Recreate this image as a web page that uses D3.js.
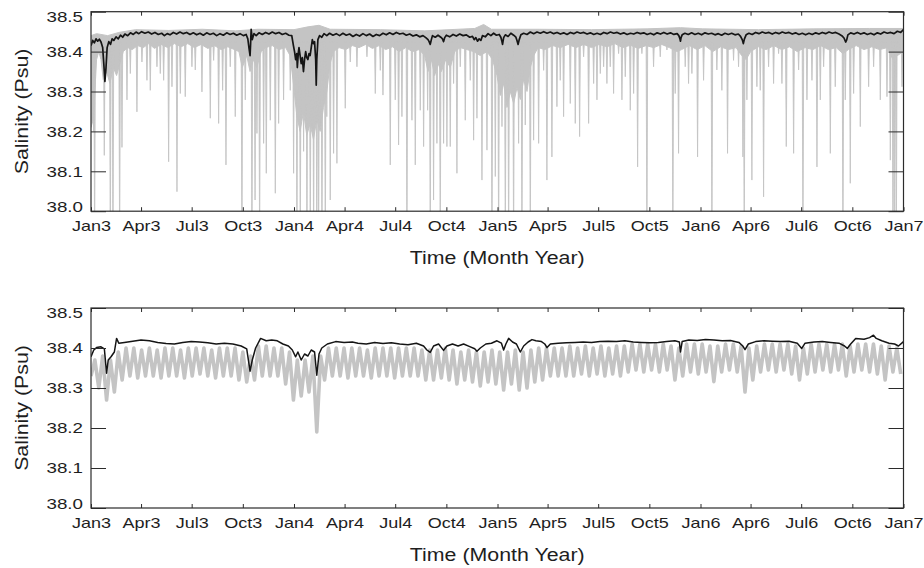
<!DOCTYPE html>
<html>
<head>
<meta charset="utf-8">
<script src="https://cdn.jsdelivr.net/npm/d3@7"></script>
<style>
  body { margin: 0; background: #fff; }
  svg { display: block; font-family: "Liberation Sans", Arial, Helvetica, sans-serif; }
</style>
</head>
<body>
<svg id="chart" width="924" height="568"></svg>
<script>
// ---- Data: days since 1 Jan 2003, salinity in psu ----
const tickLabels = ["Jan3","Apr3","Jul3","Oct3","Jan4","Apr4","Jul4","Oct4","Jan5","Apr5","Jul5","Oct5","Jan6","Apr6","Jul6","Oct6","Jan7"];
const yTickValues = [38.0, 38.1, 38.2, 38.3, 38.4, 38.5];

// Upper panel, raw record: envelope of the dense part of the signal
const rawTopUpper = [[0,38.44],[10,38.445],[30,38.44],[50,38.448],[80,38.455],[140,38.453],[200,38.456],[260,38.452],
  [300,38.456],[365,38.455],[390,38.462],[410,38.466],[430,38.456],[520,38.455],[600,38.452],[690,38.458],[706,38.468],
  [720,38.456],[800,38.456],[900,38.455],[1000,38.457],[1060,38.46],[1100,38.457],[1200,38.455],[1300,38.457],
  [1400,38.458],[1461,38.458]];
const rawTopLower = [[0,38.21],[4,38.23],[7,38.3],[10,38.38],[14,38.40],[18,38.38],[22,38.33],[28,38.35],[34,38.32],
  [40,38.36],[46,38.34],[52,38.37],[58,38.40],[66,38.41],[74,38.405],[84,38.415],[94,38.41],[104,38.42],[114,38.408],
  [126,38.418],[138,38.41],[150,38.42],[162,38.412],[174,38.42],[186,38.41],[198,38.418],[210,38.408],[222,38.415],
  [234,38.405],[246,38.412],[258,38.405],[266,38.40],[272,38.36],[280,38.39],[286,38.35],[292,38.38],[298,38.36],
  [306,38.40],[314,38.41],[326,38.415],[338,38.405],[350,38.41],[358,38.39],[364,38.32],[370,38.24],[376,38.20],
  [382,38.25],[388,38.19],[394,38.22],[400,38.18],[406,38.23],[412,38.20],[418,38.26],[424,38.30],[430,38.37],
  [436,38.40],[446,38.41],[458,38.405],[470,38.415],[482,38.41],[494,38.418],[506,38.408],[518,38.415],[530,38.405],
  [542,38.412],[554,38.40],[566,38.41],[578,38.40],[590,38.405],[600,38.39],[606,38.35],[612,38.38],[618,38.34],
  [624,38.37],[630,38.35],[638,38.38],[646,38.36],[654,38.40],[664,38.41],[676,38.405],[688,38.40],[700,38.39],
  [712,38.40],[722,38.38],[730,38.34],[736,38.29],[742,38.32],[748,38.26],[754,38.30],[760,38.27],[766,38.31],
  [772,38.28],[778,38.33],[784,38.30],[790,38.36],[796,38.39],[804,38.41],[816,38.405],[830,38.415],[844,38.41],
  [858,38.418],[872,38.41],[886,38.418],[900,38.41],[914,38.418],[928,38.412],[942,38.42],[956,38.41],[970,38.416],
  [984,38.408],[998,38.415],[1012,38.41],[1026,38.418],[1040,38.41],[1054,38.40],[1062,38.405],[1076,38.415],
  [1090,38.405],[1104,38.415],[1118,38.40],[1132,38.412],[1146,38.405],[1160,38.41],[1170,38.39],[1178,38.38],
  [1186,38.40],[1200,38.412],[1214,38.405],[1228,38.415],[1242,38.405],[1256,38.412],[1270,38.40],[1284,38.41],
  [1298,38.405],[1312,38.415],[1326,38.405],[1340,38.41],[1352,38.395],[1362,38.405],[1376,38.415],[1390,38.405],
  [1404,38.412],[1418,38.405],[1432,38.41],[1442,38.38],[1450,38.39],[1461,38.40]];
// Upper panel, raw record: individual low-salinity drops (day, minimum)
const rawTopDrops = [
  [4.7,38.20],[6.5,37.9],[23.9,38.14],[34.7,37.9],[39.5,37.9],[51.5,37.9],[55.7,38.16],[64.7,38.279],[70.7,38.345],
  [82.6,38.249],[91.6,38.374],[100.6,38.328],[106.6,38.303],[118.6,38.362],[124.6,38.345],[130.6,38.328],[139.6,38.124],
  [145.6,38.312],[154.6,38.049],[160.6,38.295],[169.5,38.287],[181.5,38.362],[187.5,38.354],[199.5,38.299],[214.5,38.233],
  [220.5,38.378],[229.5,38.22],[236.7,38.303],[242.7,38.116],[250.4,38.362],[259.4,38.237],[271.4,37.9],[277.4,38.279],
  [289.4,37.9],[295,38.028],[298.4,38.195],[303.2,37.9],[310.4,38.17],[315.2,38.095],[322.4,38.228],[331.4,38.045],
  [337.4,38.22],[346.3,38.279],[358.3,38.303],[364.3,38.095],[370.3,37.9],[376.3,37.9],[382.3,38.15],[388.3,37.9],
  [394.3,37.9],[400.3,37.9],[406,37.9],[409.3,37.9],[415.3,37.9],[421.3,37.9],[424,38.237],[430.2,38.028],[436.2,38.145],
  [442.2,38.12],[457.2,38.258],[466.2,38.374],[478.2,38.362],[496.2,38.387],[511.2,38.295],[520.2,38.353],[525,38.291],
  [538.1,38.116],[547.1,38.279],[553.1,38.166],[559.1,38.237],[568.1,37.9],[577.1,38.228],[583.1,38.116],[592.1,38.253],
  [598.1,38.162],[605.3,38.253],[610,37.9],[616,38.028],[622,38.17],[628,37.9],[634,38.17],[640,38.162],[646,38.162],
  [652,38.32],[658,38.095],[664,38.362],[673,38.228],[682,38.328],[688,38.178],[694,38.233],[703,38.078],[712,38.153],
  [721,37.9],[727,38.087],[733,37.9],[739,38.212],[745,37.9],[751,37.9],[759.9,37.9],[768.9,38.17],[774.9,37.9],
  [780.9,38.216],[789.9,37.9],[795.9,38.178],[804.9,38.17],[813.9,38.353],[819.8,38.078],[828.8,38.136],[837.8,38.262],
  [843.8,38.328],[849.8,38.237],[861.8,38.27],[870.8,38.22],[878.6,38.187],[885.8,38.387],[894.8,38.22],[903.8,38.32],
  [909.8,38.279],[915.8,38.345],[921.8,38.362],[927.7,38.32],[933.7,38.362],[939.7,38.295],[948.7,38.395],[954.7,38.279],
  [960.7,38.337],[969.7,38.253],[975.7,38.295],[982.9,38.111],[990.6,38.395],[999.6,37.9],[1011.6,38.362],[1023.6,38.387],
  [1035.6,38.404],[1046.3,37.9],[1050.5,38.295],[1056.5,38.145],[1068.5,38.362],[1074.5,38.32],[1080.5,38.345],
  [1090.7,38.136],[1101.5,38.328],[1116.5,37.9],[1125.4,38.354],[1134.4,38.303],[1144.6,38.145],[1155.4,38.378],
  [1164.4,38.362],[1172.2,38.136],[1174.6,37.9],[1179.4,38.279],[1188.4,38.078],[1197.4,38.312],[1203.4,38.303],
  [1209.4,38.036],[1218.4,38.362],[1227.4,38.32],[1236.4,38.395],[1242.4,38.32],[1250.2,38.162],[1263.4,38.145],
  [1272.4,38.354],[1280.2,37.9],[1287.4,38.279],[1296.4,38.328],[1305.4,38.111],[1311.4,38.279],[1317.4,38.362],
  [1329.4,38.145],[1338.3,38.312],[1352.1,37.9],[1356.3,38.279],[1365.3,38.07],[1371.3,38.295],[1383.3,38.212],
  [1398.3,38.312],[1407.3,38.362],[1419.3,38.279],[1425.3,38.412],[1431.3,38.287],[1437.3,38.128],[1442.1,37.9],
  [1445,37.9],[1448.1,37.9],[1452.3,38.395],[1458.3,38.312]];

// Upper panel, filtered record
const filteredTop = [[0,38.415],[3,38.428],[6,38.422],[9,38.432],[12,38.426],[15,38.431],[18,38.424],[21,38.41],[23,38.37],
  [25,38.325],[27,38.36],[29,38.41],[32,38.425],[35,38.418],[38,38.432],[41,38.428],[45,38.437],[49,38.432],[53,38.441],
  [57,38.436],[61,38.444],[66,38.44],[71,38.447],[76,38.443],[81,38.449],[86,38.445],[91,38.45],[97,38.446],[103,38.449],
  [109,38.444],[115,38.448],[121,38.443],[127,38.446],[132,38.44],[137,38.445],[142,38.442],[148,38.448],[154,38.444],
  [160,38.449],[166,38.445],[172,38.448],[178,38.443],[184,38.447],[190,38.442],[196,38.446],[202,38.441],[208,38.447],
  [214,38.443],[220,38.446],[226,38.44],[232,38.445],[238,38.441],[244,38.447],[250,38.443],[256,38.446],[262,38.441],
  [268,38.445],[274,38.44],[279,38.443],[282,38.432],[284,38.41],[286,38.39],[287,38.42],[288,38.456],[290,38.43],
  [293,38.445],[297,38.44],[302,38.447],[308,38.443],[314,38.448],[320,38.444],[326,38.449],[332,38.445],[338,38.448],
  [344,38.443],[350,38.446],[356,38.441],[361,38.44],[364,38.415],[366,38.40],[368,38.38],[370,38.395],[371,38.36],
  [373,38.40],[374,38.41],[376,38.39],[378,38.37],[380,38.385],[382,38.35],[384,38.38],[386,38.40],[388,38.385],
  [390,38.38],[392,38.395],[394,38.39],[396,38.41],[398,38.43],[400,38.42],[402,38.425],[404,38.38],[405,38.316],
  [406,38.38],[408,38.43],[411,38.44],[415,38.436],[419,38.445],[424,38.44],[429,38.446],[435,38.441],[441,38.445],
  [447,38.44],[453,38.446],[459,38.441],[465,38.444],[471,38.438],[477,38.443],[483,38.439],[489,38.445],[495,38.44],
  [501,38.444],[507,38.438],[513,38.443],[519,38.44],[525,38.446],[531,38.442],[537,38.447],[543,38.443],[549,38.448],
  [555,38.444],[561,38.446],[567,38.441],[573,38.444],[579,38.439],[585,38.442],[591,38.437],[597,38.44],[602,38.435],
  [606,38.43],[608,38.425],[610,38.418],[612,38.43],[614,38.44],[619,38.436],[624,38.441],[629,38.436],[632,38.432],
  [634,38.425],[636,38.435],[639,38.441],[645,38.437],[651,38.443],[657,38.439],[663,38.444],[669,38.44],[675,38.442],
  [681,38.436],[686,38.438],[689,38.43],[692,38.435],[695,38.426],[698,38.432],[701,38.428],[704,38.44],[709,38.437],
  [714,38.445],[719,38.44],[724,38.446],[729,38.441],[734,38.443],[737,38.436],[739,38.425],[740,38.418],[742,38.435],
  [745,38.442],[750,38.438],[755,38.446],[760,38.441],[764,38.436],[766,38.428],[768,38.418],[770,38.43],[773,38.442],
  [778,38.446],[784,38.443],[790,38.449],[796,38.445],[802,38.449],[808,38.446],[814,38.45],[820,38.446],[826,38.449],
  [832,38.445],[838,38.448],[844,38.444],[850,38.447],[856,38.443],[862,38.448],[868,38.445],[874,38.449],[880,38.446],
  [886,38.448],[892,38.444],[898,38.447],[904,38.443],[910,38.446],[916,38.443],[922,38.448],[928,38.445],[934,38.449],
  [940,38.446],[946,38.448],[952,38.444],[958,38.447],[964,38.443],[970,38.446],[976,38.444],[982,38.448],[988,38.445],
  [994,38.447],[1000,38.443],[1006,38.446],[1012,38.442],[1018,38.447],[1024,38.444],[1030,38.448],[1036,38.444],
  [1042,38.447],[1048,38.443],[1054,38.445],[1057,38.44],[1059,38.432],[1060,38.426],[1061,38.435],[1063,38.442],
  [1068,38.446],[1074,38.443],[1080,38.447],[1086,38.443],[1092,38.446],[1098,38.442],[1104,38.447],[1110,38.444],
  [1116,38.446],[1122,38.442],[1128,38.445],[1134,38.441],[1140,38.446],[1146,38.443],[1152,38.446],[1158,38.442],
  [1164,38.444],[1168,38.438],[1171,38.43],[1173,38.42],[1175,38.432],[1178,38.442],[1183,38.446],[1189,38.443],
  [1195,38.448],[1201,38.445],[1207,38.449],[1213,38.446],[1219,38.448],[1225,38.444],[1231,38.448],[1237,38.445],
  [1243,38.449],[1249,38.446],[1255,38.448],[1261,38.444],[1267,38.447],[1273,38.443],[1279,38.446],[1285,38.442],
  [1291,38.446],[1297,38.443],[1303,38.447],[1309,38.444],[1315,38.448],[1321,38.445],[1327,38.449],[1333,38.446],
  [1339,38.448],[1345,38.444],[1350,38.44],[1354,38.434],[1357,38.424],[1359,38.43],[1361,38.442],[1366,38.447],
  [1372,38.444],[1378,38.448],[1384,38.444],[1390,38.447],[1396,38.443],[1402,38.446],[1408,38.442],[1414,38.447],
  [1420,38.444],[1426,38.449],[1432,38.446],[1438,38.448],[1444,38.445],[1450,38.451],[1456,38.448],[1461,38.455]];

// Lower panel, raw record sampled weekly (day = 7 * index)
const rawBottomWeekly = [
  38.33,38.37,38.30,38.38,38.27,38.37,38.29,38.39,38.32,38.40,
  38.33,38.40,38.325,38.395,38.33,38.40,38.33,38.395,38.325,38.40,
  38.33,38.40,38.33,38.395,38.325,38.40,38.33,38.40,38.335,38.40,
  38.33,38.395,38.325,38.40,38.33,38.40,38.33,38.40,38.32,38.39,
  38.315,38.38,38.32,38.405,38.33,38.405,38.33,38.40,38.33,38.40,
  38.31,38.39,38.27,38.37,38.28,38.37,38.29,38.38,38.19,38.38,
  38.32,38.40,38.33,38.40,38.33,38.40,38.325,38.40,38.33,38.40,
  38.33,38.395,38.325,38.40,38.33,38.40,38.33,38.40,38.325,38.40,
  38.33,38.40,38.33,38.40,38.33,38.395,38.32,38.395,38.32,38.395,
  38.325,38.40,38.32,38.395,38.31,38.39,38.32,38.395,38.315,38.39,
  38.305,38.39,38.315,38.395,38.31,38.39,38.295,38.39,38.31,38.395,
  38.295,38.39,38.30,38.395,38.315,38.40,38.32,38.40,38.33,38.40,
  38.33,38.40,38.33,38.405,38.33,38.40,38.335,38.405,38.33,38.40,
  38.335,38.405,38.33,38.40,38.335,38.405,38.33,38.405,38.34,38.41,
  38.345,38.41,38.34,38.41,38.345,38.41,38.34,38.41,38.345,38.405,
  38.32,38.40,38.33,38.41,38.34,38.41,38.335,38.41,38.34,38.405,
  38.316,38.405,38.34,38.41,38.345,38.41,38.34,38.405,38.29,38.40,
  38.32,38.405,38.34,38.41,38.345,38.41,38.34,38.41,38.345,38.41,
  38.335,38.405,38.32,38.40,38.335,38.41,38.34,38.41,38.345,38.41,
  38.34,38.41,38.345,38.41,38.33,38.405,38.34,38.41,38.345,38.41,
  38.34,38.41,38.335,38.405,38.32,38.405,38.34,38.40,38.335];

// Lower panel, filtered record
const filteredBottom = [[0,38.378],[5,38.395],[10,38.401],[18,38.403],[24,38.398],[28,38.337],[31,38.37],[36,38.378],
  [42,38.39],[46,38.424],[50,38.412],[60,38.414],[75,38.417],[90,38.42],[105,38.418],[120,38.414],[135,38.411],[150,38.41],
  [165,38.414],[180,38.416],[195,38.415],[210,38.413],[225,38.41],[240,38.412],[255,38.41],[270,38.405],[280,38.398],
  [286,38.342],[290,38.37],[296,38.40],[305,38.424],[315,38.418],[325,38.42],[335,38.418],[345,38.41],[355,38.405],
  [362,38.395],[368,38.378],[372,38.39],[378,38.37],[384,38.385],[390,38.38],[396,38.395],[402,38.39],[406,38.332],
  [410,38.385],[415,38.40],[425,38.41],[440,38.416],[455,38.414],[470,38.415],[480,38.412],[495,38.41],[510,38.414],
  [525,38.411],[540,38.413],[555,38.41],[570,38.408],[585,38.412],[598,38.405],[604,38.395],[610,38.389],[616,38.405],
  [625,38.41],[634,38.394],[640,38.405],[650,38.41],[660,38.405],[670,38.41],[680,38.404],[690,38.398],[694,38.392],
  [700,38.40],[710,38.41],[720,38.412],[730,38.418],[738,38.412],[742,38.395],[746,38.41],[751,38.424],[758,38.415],
  [765,38.41],[772,38.39],[778,38.405],[786,38.415],[793,38.421],[800,38.418],[810,38.416],[816,38.41],[820,38.401],
  [826,38.41],[840,38.412],[855,38.413],[870,38.414],[885,38.415],[900,38.414],[915,38.416],[930,38.417],[945,38.416],
  [960,38.418],[975,38.415],[990,38.414],[1005,38.413],[1020,38.414],[1035,38.416],[1050,38.418],[1058,38.415],
  [1060,38.39],[1063,38.416],[1075,38.42],[1090,38.419],[1105,38.421],[1120,38.42],[1135,38.418],[1150,38.419],
  [1165,38.414],[1172,38.405],[1176,38.396],[1182,38.41],[1195,38.416],[1210,38.418],[1225,38.417],[1240,38.416],
  [1255,38.417],[1270,38.412],[1278,38.399],[1284,38.412],[1300,38.415],[1315,38.416],[1330,38.414],[1345,38.412],
  [1355,38.405],[1360,38.399],[1366,38.41],[1375,38.424],[1390,38.422],[1400,38.426],[1407,38.432],[1412,38.424],
  [1422,38.418],[1435,38.412],[1445,38.41],[1452,38.405],[1461,38.416]];

// ---- Drawing ----
const DAY_MS = 864e5;
const T0 = Date.UTC(2003, 0, 1);
const T1 = Date.UTC(2007, 0, 1);
const toDate = d => new Date(T0 + d * DAY_MS);

const RAW_COLOR = "#c4c4c4";
const FILT_COLOR = "#151515";
const AXIS_COLOR = "#2b2b2b";
const TEXT_COLOR = "#1e1e1e";
const LEFT = 91, RIGHT = 903.5;
const DROP_TOP = 38.425;   // level the drops fall from
const DROP_HALF = 1.4;     // half width of a drop, days

const svg = d3.select("#chart");
const x = d3.scaleUtc().domain([T0, T1]).range([LEFT, RIGHT]);
const monthTicks = d3.utcMonth.every(3).range(new Date(T0), new Date(T1 + DAY_MS));

// stretch text along its run
function widen(sel, k) {
  sel.each(function () {
    const w = this.getComputedTextLength();
    d3.select(this).attr("textLength", w * k).attr("lengthAdjust", "spacingAndGlyphs");
  });
}

function drawPanel(id, top, bottom, drawData) {
  const y = d3.scaleLinear().domain([38.0, 38.5]).range([bottom, top]);
  const g = svg.append("g").attr("class", "panel-" + id);

  svg.append("clipPath").attr("id", "clip-" + id)
    .append("rect").attr("x", LEFT).attr("y", top).attr("width", RIGHT - LEFT).attr("height", bottom - top);

  const plot = g.append("g").attr("clip-path", `url(#clip-${id})`);
  drawData(plot, y);

  // axes with inward ticks
  const xb = d3.axisBottom(x).tickValues(monthTicks).tickSize(-4)
    .tickFormat((d, i) => tickLabels[i]);
  const xt = d3.axisTop(x).tickValues(monthTicks).tickSize(-4).tickFormat("");
  const yl = d3.axisLeft(y).tickValues(yTickValues).tickSize(-15).tickFormat(d3.format(".1f"));
  const yr = d3.axisRight(y).tickValues(yTickValues).tickSize(-15).tickFormat("");

  const gxb = g.append("g").attr("transform", `translate(0,${bottom})`).call(xb);
  g.append("g").attr("transform", `translate(0,${top})`).call(xt);
  const gyl = g.append("g").attr("transform", `translate(${LEFT},0)`).call(yl);
  g.append("g").attr("transform", `translate(${RIGHT},0)`).call(yr);

  g.selectAll(".domain").remove();
  g.selectAll(".tick line").attr("stroke", AXIS_COLOR).attr("stroke-width", 1);

  gxb.selectAll(".tick text").attr("y", 9).attr("dy", "0.71em")
    .attr("font-size", 15).attr("fill", TEXT_COLOR).call(widen, 1.2);
  gyl.selectAll(".tick text").attr("x", -8).attr("font-size", 15).attr("fill", TEXT_COLOR)
    .attr("dy", d => d === 38.5 ? "0.62em" : d === 38.0 ? "0.05em" : "0.32em")
    .call(widen, 1.25);

  g.append("rect").attr("x", LEFT).attr("y", top).attr("width", RIGHT - LEFT).attr("height", bottom - top)
    .attr("fill", "none").attr("stroke", AXIS_COLOR).attr("stroke-width", 1.2);

  g.append("text").attr("x", (LEFT + RIGHT) / 2).attr("y", bottom + 53)
    .attr("text-anchor", "middle").attr("font-size", 17.5).attr("fill", TEXT_COLOR)
    .text("Time (Month Year)").call(widen, 1.22);

  g.append("text").attr("transform", `translate(28,${(top + bottom) / 2}) rotate(-90)`)
    .attr("text-anchor", "middle").attr("font-size", 17.5).attr("fill", TEXT_COLOR)
    .text("Salinity (Psu)").call(widen, 1.22);
}

const line = y => d3.line().x(d => x(toDate(d[0]))).y(d => y(d[1]));

// Upper panel
drawPanel("top", 11.7, 211.2, (plot, y) => {
  const band = rawTopUpper.concat(rawTopLower.slice().reverse());
  plot.append("path").attr("d", line(y)(band) + "Z")
    .attr("fill", RAW_COLOR).attr("stroke", RAW_COLOR).attr("stroke-width", 1).attr("stroke-linejoin", "round");
  plot.append("g").selectAll("path").data(rawTopDrops).join("path")
    .attr("d", d => line(y)([[d[0] - DROP_HALF, DROP_TOP], [d[0], d[1]], [d[0] + DROP_HALF, DROP_TOP]]) + "Z")
    .attr("fill", RAW_COLOR).attr("stroke", RAW_COLOR).attr("stroke-width", 0.9);
  plot.append("path").attr("d", line(y)(filteredTop))
    .attr("fill", "none").attr("stroke", FILT_COLOR).attr("stroke-width", 1.7).attr("stroke-linejoin", "round");
});

// Lower panel
drawPanel("bottom", 308, 508, (plot, y) => {
  const raw = rawBottomWeekly.map((v, i) => [i * 7, v]);
  plot.append("path").attr("d", line(y)(raw))
    .attr("fill", "none").attr("stroke", RAW_COLOR).attr("stroke-width", 3.6).attr("stroke-linejoin", "round");
  plot.append("path").attr("d", line(y)(filteredBottom))
    .attr("fill", "none").attr("stroke", FILT_COLOR).attr("stroke-width", 1.5).attr("stroke-linejoin", "round");
});
</script>
</body>
</html>
